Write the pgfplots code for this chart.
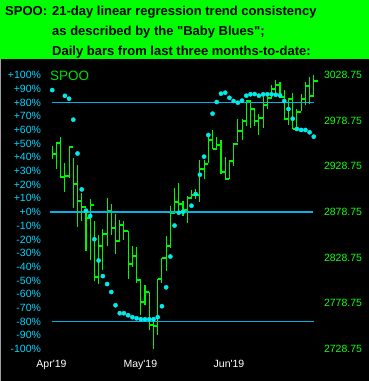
\documentclass[border=0pt]{standalone}
\usepackage{pgfplots}
\usepackage{pgfplotstable}
\pgfplotsset{compat=1.18}
\usepackage{fontspec}
\setmainfont{Liberation Sans}
\definecolor{hdrgreen}{RGB}{0,255,0}
\definecolor{bargreen}{RGB}{0,245,0}
\definecolor{lblgreen}{RGB}{20,255,20}
\definecolor{spoogreen}{RGB}{0,225,0}
\definecolor{lblcyan}{RGB}{0,215,255}
\definecolor{linecyan}{RGB}{0,180,230}
\definecolor{dotcyan}{RGB}{0,235,235}
\definecolor{bordergray}{RGB}{160,160,160}

\pgfplotstableread{
i H L C
0 2951.0 2937.2 2942.6
1 2955.4 2926.2 2954.7
2 2960.9 2916.3 2917.4
3 2932.4 2900.6 2918.2
4 2949.6 2916.3 2949.6
5 2937.9 2883.5 2909.4
6 2929.9 2862.7 2891.2
7 2899.6 2869.3 2884.6
8 2882.4 2836.4 2872.5
9 2892.6 2826.6 2886.8
10 2868.5 2802.8 2807.9
11 2853.2 2800.3 2841.2
12 2860.5 2815.6 2854.7
13 2894.1 2841.2 2880.2
14 2887.5 2853.2 2861.6
15 2876.6 2833.1 2847.4
16 2870.0 2845.9 2864.9
17 2868.5 2848.5 2857.6
18 2857.6 2805.8 2821.4
19 2841.5 2818.9 2830.9
20 2840.1 2800.6 2804.7
21 2804.7 2766.3 2780.6
22 2798.5 2777.3 2790.8
23 2790.8 2749.9 2754.6
24 2763.4 2729.1 2753.9
25 2805.8 2744.4 2805.8
26 2828.7 2801.4 2828.7
27 2852.5 2813.8 2841.2
28 2884.9 2839.3 2878.0
29 2905.0 2880.2 2890.1
30 2910.5 2878.8 2887.5
31 2890.4 2874.4 2880.9
32 2896.3 2867.1 2894.4
33 2902.8 2892.6 2897.0
34 2903.6 2892.6 2897.7
35 2935.3 2889.3 2926.2
36 2935.3 2915.2 2931.7
37 2962.3 2932.4 2958.0
38 2968.5 2947.4 2948.1
39 2960.9 2947.4 2951.8
40 2957.2 2920.0 2922.6
41 2939.0 2914.5 2915.3
42 2935.3 2914.5 2934.6
43 2954.7 2929.1 2953.6
44 2981.0 2955.4 2967.8
45 2981.0 2958.0 2978.8
46 3000.0 2972.9 3000.0
47 3000.0 2971.1 2991.9
48 2993.0 2972.9 2978.8
49 2985.7 2963.4 2982.0
50 3006.5 2971.1 2996.3
51 3006.5 2991.9 3003.9
52 3017.5 3002.1 3013.8
53 3022.9 3006.5 3017.5
54 3021.1 3003.9 3005.0
55 3012.3 2980.2 2981.0
56 3003.9 2974.4 3002.9
57 3008.7 2969.3 2970.0
58 2991.9 2970.0 2988.3
59 3007.6 2989.0 3002.9
60 3021.1 2995.6 3016.7
61 3026.6 2997.4 3005.4
62 3028.4 3005.4 3022.2
}\bars

\pgfplotstableread{
i P
0 89.0
3 84.8
4 82.7
5 67.4
6 42.7
7 16.5
8 1.0
9 -2.9
10 -19.9
11 -35.4
12 -46.8
13 -52.6
14 -58.4
15 -68.1
16 -73.9
17 -73.9
18 -75.4
19 -76.8
20 -77.6
21 -78.3
22 -78.3
23 -78.3
24 -78.3
25 -76.8
26 -68.8
27 -55.0
28 -32.5
29 -9.9
30 -0.5
31 0.2
33 4.6
34 13.1
35 27.2
36 40.4
37 56.2
38 71.8
39 80.3
40 86.4
41 87.1
42 83.4
43 81.0
44 79.8
45 81.3
46 84.9
47 85.9
48 86.1
49 84.9
50 85.9
51 85.9
52 85.9
53 85.6
54 85.2
55 81.0
56 75.2
57 68.1
58 60.6
59 59.9
60 59.9
61 58.2
62 55.0
}\blues

\begin{document}
\begin{tikzpicture}
\useasboundingbox (0pt,0pt) rectangle (369pt,381pt);
\fill[black] (0pt,0pt) rectangle (369pt,381pt);
\fill[hdrgreen] (0pt,321.7pt) rectangle (369pt,381pt);
\draw[bordergray, line width=1pt] (0.5pt,0pt) -- (0.5pt,321.7pt);

% price axis (right) with OHLC-style bars
\begin{axis}[
  at={(48pt,19pt)}, anchor=south west, scale only axis,
  width=270pt, height=300pt,
  xmin=-1, xmax=63, ymin=2714.5, ymax=3043.0,
  axis x line=none, axis y line*=right,
  axis line style={draw=none}, tick style={draw=none},
  xtick=\empty,
  ytick={2728.75,2778.75,2828.75,2878.75,2928.75,2978.75,3028.75},
  yticklabels={2728.75,2778.75,2828.75,2878.75,2928.75,2978.75,3028.75},
  yticklabel style={font=\fontsize{10.5}{12}\selectfont, text=lblgreen, xshift=2.5pt},
]
\addplot[draw=none, mark=none, forget plot,
  error bars/.cd, y dir=plus, y explicit, error mark=none,
  error bar style={draw=bargreen, line width=1.1pt}]
  table[x=i, y=L, y error plus expr=\thisrow{H}-\thisrow{L}] {\bars};
\addplot[draw=none, mark=none, forget plot,
  error bars/.cd, x dir=plus, x fixed=1, error mark=none,
  error bar style={draw=bargreen, line width=1.9pt}]
  table[x=i, y=C] {\bars};
\end{axis}

% percent axis (left) with Baby Blues
\begin{axis}[
  at={(48pt,19pt)}, anchor=south west, scale only axis,
  width=270pt, height=300pt,
  xmin=-1, xmax=63, ymin=-109.5, ymax=109.5,
  axis x line*=bottom, axis y line*=left,
  axis line style={draw=none}, tick style={draw=none},
  xtick={-0.17,20.9,41.9},
  xticklabels={Apr\textquotesingle19,May\textquotesingle19,Jun\textquotesingle19},
  xticklabel style={font=\fontsize{10.5}{12}\selectfont, text=white, yshift=5pt},
  ytick={-100,-90,-80,-70,-60,-50,-40,-30,-20,-10,0,10,20,30,40,50,60,70,80,90,100},
  yticklabels={-100\%,-90\%,-80\%,-70\%,-60\%,-50\%,-40\%,-30\%,-20\%,-10\%,+0\%,+10\%,+20\%,+30\%,+40\%,+50\%,+60\%,+70\%,+80\%,+90\%,+100\%},
  yticklabel style={font=\fontsize{10.5}{12}\selectfont, text=lblcyan, xshift=-3.5pt},
]
\addplot[linecyan, line width=1.1pt, forget plot] coordinates {(-0.05,80) (61.98,80)};
\addplot[linecyan, line width=1.1pt, forget plot] coordinates {(-0.53,0) (61.74,0)};
\addplot[linecyan, line width=1.1pt, forget plot] coordinates {(-0.05,-80) (61.98,-80)};
\addplot[only marks, mark=*, mark size=2.1pt, dotcyan, forget plot] table[x=i, y=P] {\blues};
\end{axis}

\node[anchor=base west, inner sep=0pt, text=spoogreen, font=\fontsize{13.5}{15}\selectfont] at (50pt,300pt) {SPOO};
\node[anchor=base west, inner sep=0pt, font=\bfseries\fontsize{13}{15}\selectfont] at (5pt,365.7pt) {SPOO:};
\node[anchor=base west, inner sep=0pt, font=\bfseries\fontsize{13}{15}\selectfont] at (52pt,365.7pt) {21-day linear regression trend consistency};
\node[anchor=base west, inner sep=0pt, font=\bfseries\fontsize{13}{15}\selectfont] at (52pt,345.7pt) {as described by the \textquotedbl Baby Blues\textquotedbl;};
\node[anchor=base west, inner sep=0pt, font=\bfseries\fontsize{13}{15}\selectfont] at (52pt,325.7pt) {Daily bars from last three months-to-date:};
\end{tikzpicture}
\end{document}
